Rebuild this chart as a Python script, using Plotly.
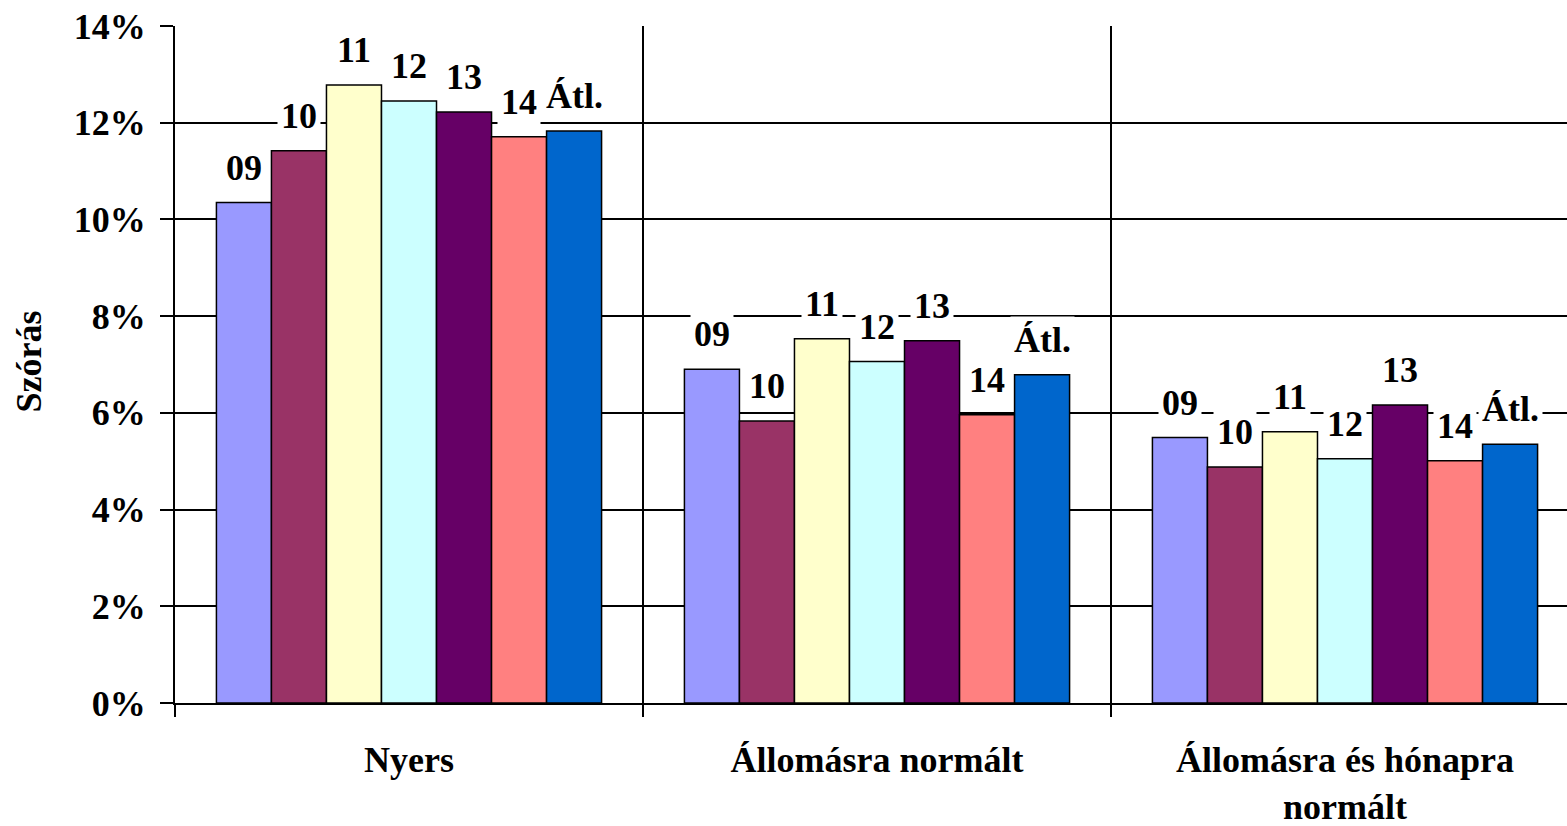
import plotly.graph_objects as go

categories = ["Nyers", "Állomásra normált", "Állomásra és hónapra<br>normált"]
series_names = ["09", "10", "11", "12", "13", "14", "Átl."]
colors = ["#9999FF", "#993366", "#FFFFCC", "#CCFFFF", "#660066", "#FF8080", "#0066CC"]

v09 = [0.1035, 0.0690, 0.0549]
v10 = [0.1142, 0.0583, 0.0488]
v11 = [0.1278, 0.0753, 0.0561]
v12 = [0.1245, 0.0706, 0.0505]
v13 = [0.1222, 0.0749, 0.0616]
v14 = [0.1171, 0.0596, 0.0501]
vatl = [0.1183, 0.0679, 0.0535]
series_values = [v09, v10, v11, v12, v13, v14, vatl]
y_title = "Szórás"

FONT = "Times New Roman, Liberation Serif, serif"
cat_px = 468.0
bargap = 0.177
bar_px = cat_px * (1 - bargap) / len(series_names)
plot_w = 1567 - 175

fig = go.Figure()
for name, vals, col in zip(series_names, series_values, colors):
    fig.add_trace(go.Bar(
        x=categories, y=vals, name=name,
        marker=dict(color=col, line=dict(color="black", width=1.5)),
        hoverinfo="y",
    ))

annotations = []
for i, (name, vals) in enumerate(zip(series_names, series_values)):
    for c, v in zip(categories, vals):
        annotations.append(dict(
            x=c, y=v, xref="x", yref="y", text="<b>%s</b>" % name,
            showarrow=False, xanchor="center", yanchor="middle",
            xshift=(i - 3) * bar_px, yshift=35,
            bgcolor="white", borderpad=3,
            font=dict(family=FONT, size=36, color="black"),
        ))
annotations.append(dict(
    x=0, y=0.5, xref="paper", yref="paper", text="<b>%s</b>" % y_title,
    showarrow=False, xanchor="center", yanchor="middle", textangle=-90,
    xshift=-147, yshift=3,
    font=dict(family=FONT, size=36, color="black"),
))

fig.update_layout(
    width=1567, height=826,
    margin=dict(l=175, r=0, t=26, b=123),
    paper_bgcolor="white", plot_bgcolor="white",
    barmode="group", bargap=bargap, bargroupgap=0,
    showlegend=False,
    annotations=annotations,
    font=dict(family=FONT, size=36, color="black"),
)
fig.update_xaxes(
    range=[-0.5, -0.5 + plot_w / cat_px], automargin=False,
    tickson="boundaries", ticks="outside", ticklen=12, tickwidth=1.5, tickcolor="black",
    showgrid=True, gridcolor="black", gridwidth=1.5,
    showline=True, linecolor="black", linewidth=2,
    tickfont=dict(family=FONT, size=36, color="black", weight="bold"),
    ticklabelstandoff=24,
)
fig.update_yaxes(
    range=[0, 0.14], dtick=0.02, tickformat=".0%", automargin=False,
    ticks="outside", ticklen=13, tickwidth=1.5, tickcolor="black",
    showgrid=True, gridcolor="black", gridwidth=1.5,
    showline=True, linecolor="black", linewidth=2,
    zeroline=False,
    tickfont=dict(family=FONT, size=36, color="black", weight="bold"),
    ticklabelstandoff=7,
)

fig.write_html(
    "out.html",
    config={"displayModeBar": False},
    post_script="document.body.style.margin='0';document.body.style.overflow='hidden';",
)
